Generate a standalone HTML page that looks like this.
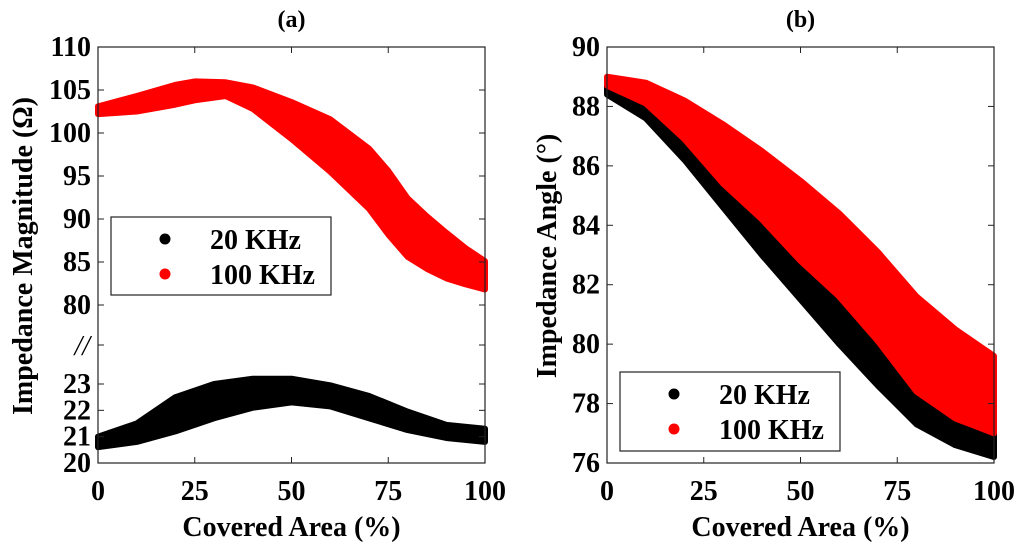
<!DOCTYPE html>
<html><head><meta charset="utf-8"><style>
html,body{margin:0;padding:0;background:#fff;}
svg{display:block;font-family:"Liberation Serif",serif;font-weight:bold;}
</style></head><body>
<svg id="chart" width="1024" height="548" viewBox="0 0 1024 548" xmlns="http://www.w3.org/2000/svg"></svg>
<script>
const xCats = [0,10,20,30,40,50,60,70,80,90,100];
// Panel (a) 100 KHz envelope (upper axis, Ohm)
const aRedX = [0,10,20,25,33,40,50,60,70,75,80,85,90,95,100];
const aRedTop = [103.1,104.3,105.6,106.0,105.9,105.3,103.6,101.6,98.2,95.6,92.4,90.3,88.4,86.6,85.1];
const aRedBot = [102.2,102.5,103.3,103.8,104.3,102.8,99.3,95.5,91.2,88.2,85.6,84.2,83.1,82.4,81.8];
// Panel (a) 20 KHz envelope (lower axis, Ohm)
const aBlkTop = [21.0,21.5,22.5,23.0,23.2,23.2,22.95,22.55,21.95,21.45,21.3];
const aBlkBot = [20.6,20.8,21.2,21.7,22.1,22.3,22.15,21.7,21.25,20.95,20.8];
// Panel (b) envelopes (deg)
const bRedTop = [89.0,88.8,88.2,87.4,86.5,85.5,84.4,83.1,81.6,80.5,79.6];
const bRedBot = [88.7,88.1,86.9,85.4,84.2,82.8,81.6,80.1,78.4,77.5,77.0];
const bBlkTop = [88.7,88.3,87.4,86.1,84.8,83.3,81.8,80.3,78.8,77.8,77.3];
const bBlkBot = [88.4,87.6,86.2,84.6,83.0,81.5,80.0,78.6,77.3,76.6,76.2];
const xTicks = [0,25,50,75,100];
const aUpperTicks = [110,105,100,95,90,85,80];
const aLowerTicks = [23,22,21,20];
const bTicks = [90,88,86,84,82,80,78,76];

const NS="http://www.w3.org/2000/svg";
const svg=document.getElementById('chart');
function mk(tag,attrs,parent){const e=document.createElementNS(NS,tag);for(const k in attrs)e.setAttribute(k,attrs[k]);(parent||svg).appendChild(e);return e;}
function txt(s,attrs,parent){const e=mk('text',attrs,parent);e.textContent=s;return e;}
const FS=28;

const aL=98,aR=485,aT=47,aB=463;
const ax=v=>aL+(aR-aL)*v/100;
const ayU=v=>aT+(110-v)*(305-aT)/30;
const ayL=v=>384+(23-v)*(aB-384)/3;
const bL=607,bR=994,bT=47,bB=463;
const bx=v=>bL+(bR-bL)*v/100;
const by=v=>bT+(90-v)*(bB-bT)/14;

function band(xs,top,bot,fx,fy,color,name,parent){
  let pts=[];
  for(let i=0;i<xs.length;i++)pts.push(fx(xs[i])+','+fy(top[i]));
  for(let i=xs.length-1;i>=0;i--)pts.push(fx(xs[i])+','+fy(bot[i]));
  const p=mk('polygon',{points:pts.join(' '),fill:color,stroke:color,'stroke-width':6,'stroke-linejoin':'round'},parent);
  
  
}
function frame(L,R,T,B,name){
  const r=mk('rect',{x:L,y:T,width:R-L,height:B-T,fill:'none',stroke:'#222','stroke-width':1.2});
  
  
}
function ylab(v,x,y){const t=txt(v,{x:x,y:y+9,'text-anchor':'end','font-size':FS});}
function xlab(v,x){const t=txt(v,{x:x,y:500,'text-anchor':'middle','font-size':FS});}

// ---- Panel a ----
const ga=mk('g',{});


band(xCats,aBlkTop,aBlkBot,ax,ayL,'#000','series-20khz-a',ga);
band(aRedX,aRedTop,aRedBot,ax,ayU,'#ff0000','series-100khz-a',ga);
mk('rect',{x:0,y:aB+0.6,width:500,height:3,fill:'#fff'});
frame(aL,aR,aT,aB,'plot-frame-a');
aUpperTicks.forEach(v=>{const y=ayU(v);mk('line',{x1:aL,x2:aL+6,y1:y,y2:y,stroke:'#222'});mk('line',{x1:aR-6,x2:aR,y1:y,y2:y,stroke:'#222'});ylab(v,aL-7,y);});
aLowerTicks.forEach(v=>{const y=ayL(v);mk('line',{x1:aL,x2:aL+6,y1:y,y2:y,stroke:'#222'});mk('line',{x1:aR-6,x2:aR,y1:y,y2:y,stroke:'#222'});ylab(v,aL-7,y);});
mk('line',{x1:aL,x2:aL+6,y1:345,y2:345,stroke:'#222'});mk('line',{x1:aR-6,x2:aR,y1:345,y2:345,stroke:'#222'});
const br=txt('//',{x:aL-8,y:355,'text-anchor':'end','font-size':FS,'font-style':'italic','font-weight':'normal'});

xTicks.forEach(v=>{const x=ax(v);mk('line',{x1:x,x2:x,y1:aB,y2:aB-6,stroke:'#222'});mk('line',{x1:x,x2:x,y1:aT,y2:aT+6,stroke:'#222'});xlab(v,x);});
let t=txt('Covered Area (%)',{x:(aL+aR)/2,y:536,'text-anchor':'middle','font-size':FS});
t=txt('Impedance Magnitude (Ω)',{x:0,y:0,'text-anchor':'middle','font-size':FS,transform:'translate(32,256) rotate(-90)'});
t=txt('(a)',{x:(aL+aR)/2,y:27,'text-anchor':'middle','font-size':24});

// ---- Panel b ----
const gb=mk('g',{});


band(xCats,bBlkTop,bBlkBot,bx,by,'#000','series-20khz-b',gb);
band(xCats,bRedTop,bRedBot,bx,by,'#ff0000','series-100khz-b',gb);
frame(bL,bR,bT,bB,'plot-frame-b');
bTicks.forEach(v=>{const y=by(v);mk('line',{x1:bL,x2:bL+6,y1:y,y2:y,stroke:'#222'});mk('line',{x1:bR-6,x2:bR,y1:y,y2:y,stroke:'#222'});ylab(v,bL-7,y);});
xTicks.forEach(v=>{const x=bx(v);mk('line',{x1:x,x2:x,y1:bB,y2:bB-6,stroke:'#222'});mk('line',{x1:x,x2:x,y1:bT,y2:bT+6,stroke:'#222'});xlab(v,x);});
t=txt('Covered Area (%)',{x:(bL+bR)/2,y:536,'text-anchor':'middle','font-size':FS});
t=txt('Impedance Angle (°)',{x:0,y:0,'text-anchor':'middle','font-size':FS,transform:'translate(556,256) rotate(-90)'});
t=txt('(b)',{x:(bL+bR)/2,y:27,'text-anchor':'middle','font-size':24});

function legend(x,y,w,h,name){
  const g=mk('g',{});
  
  
  mk('rect',{x:x,y:y,width:w,height:h,fill:'#fff',stroke:'#222','stroke-width':1.2},g);
  mk('circle',{cx:x+54,cy:y+22,r:5.5,fill:'#000'},g);
  mk('circle',{cx:x+54,cy:y+57,r:5.5,fill:'#ff0000'},g);
  const a=txt('20 KHz',{x:x+99,y:y+32,'font-size':FS},g);
  const b=txt('100 KHz',{x:x+99,y:y+67,'font-size':FS},g);
}
legend(111,217,220,78,'legend-a');
legend(620,372,220,79,'legend-b');
</script>
</body></html>
